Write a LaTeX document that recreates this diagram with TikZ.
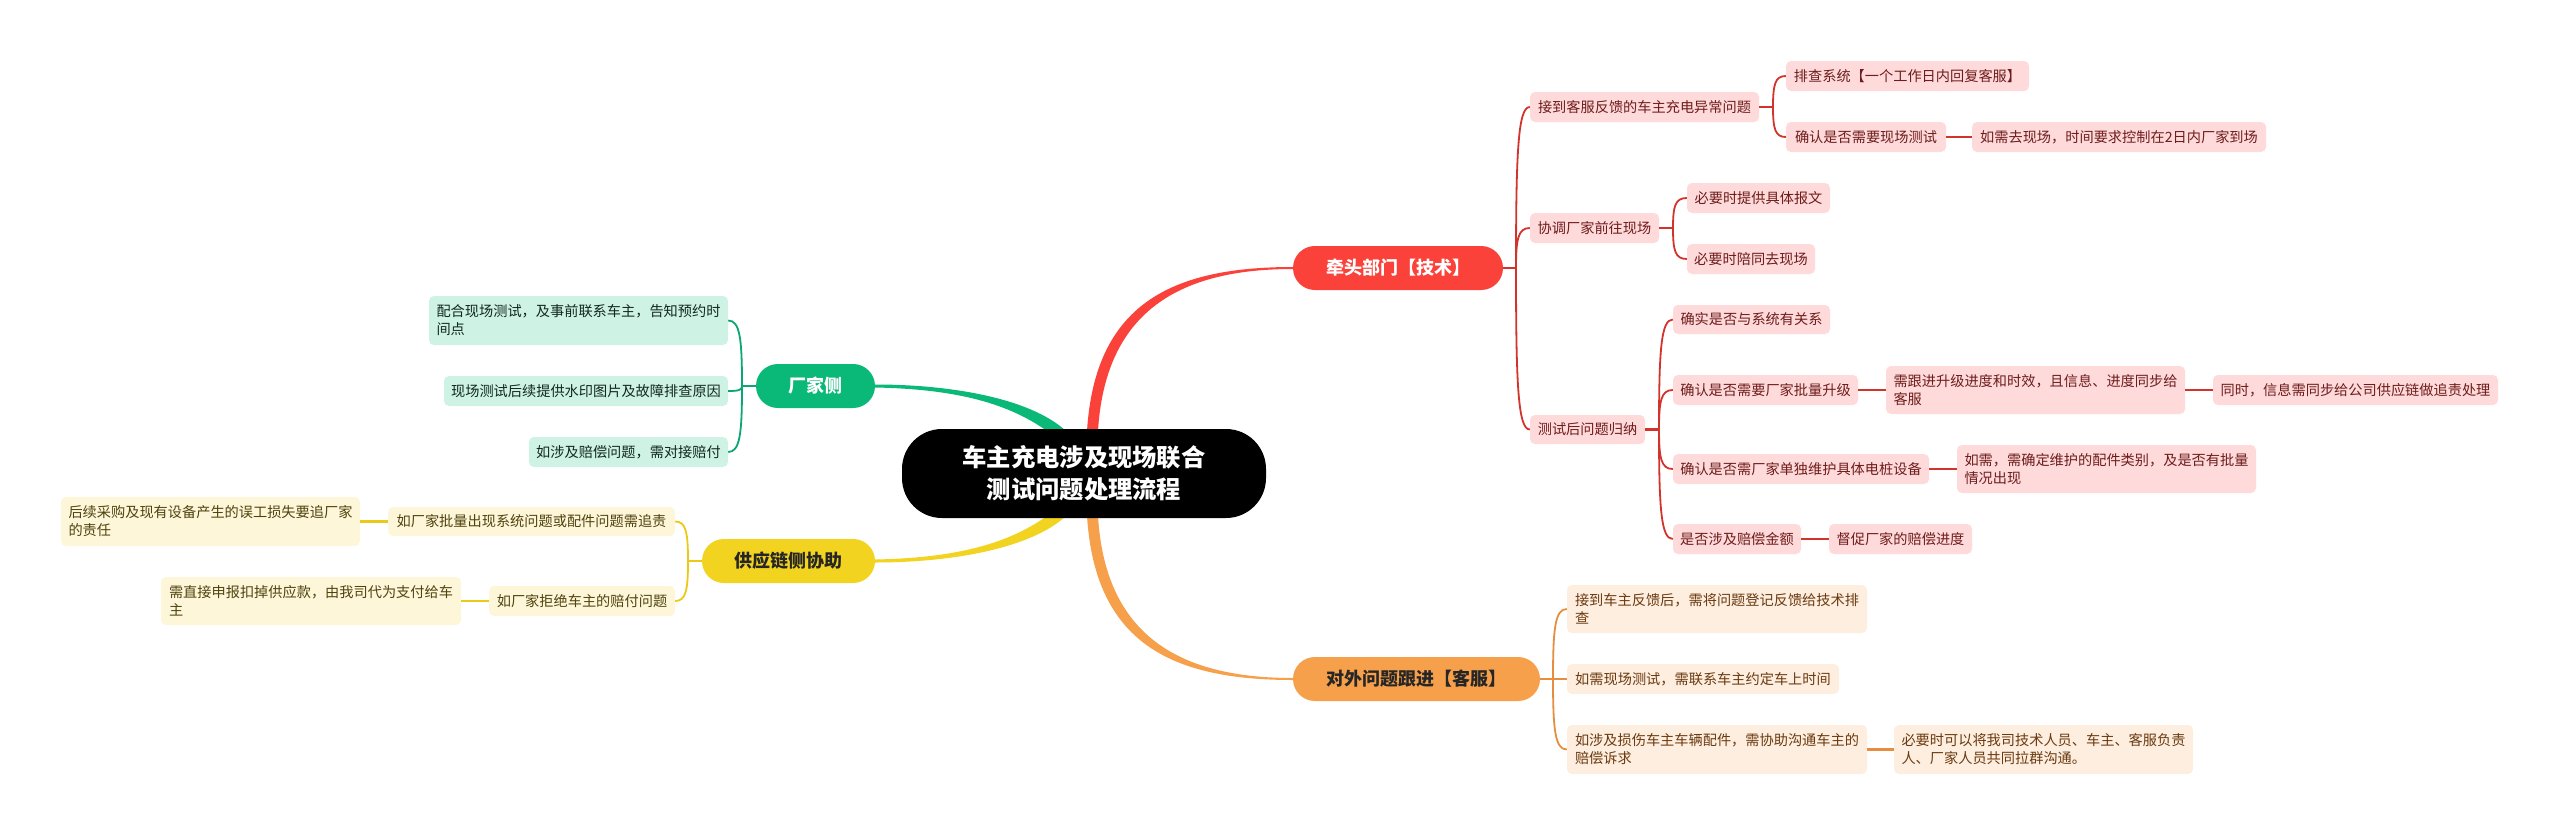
\documentclass[tikz,border=0pt]{standalone}
\usepackage{fontspec}
\setmainfont{Noto Sans CJK SC}
\usetikzlibrary{calc}
\definecolor{rD}{HTML}{FB423A}\definecolor{rL}{HTML}{FFDADA}\definecolor{rT}{HTML}{6E1C1C}\definecolor{rC}{HTML}{D2332B}
\definecolor{oD}{HTML}{F7A04B}\definecolor{oL}{HTML}{FDEEDF}\definecolor{oT}{HTML}{6B3A10}\definecolor{oC}{HTML}{E58E40}
\definecolor{gD}{HTML}{0AB877}\definecolor{gL}{HTML}{CEF3E4}\definecolor{gT}{HTML}{12271F}\definecolor{gC}{HTML}{0AA870}
\definecolor{yD}{HTML}{F2D31F}\definecolor{yL}{HTML}{FDF6D9}\definecolor{yT}{HTML}{4F430D}\definecolor{yC}{HTML}{EBC919}
\tikzset{
 leaf/.style={rounded corners=5pt,inner sep=0pt,align=left,font=\fontsize{14.2}{18}\selectfont},
 rleaf/.style={leaf,fill=rL,text=rT},
 oleaf/.style={leaf,fill=oL,text=oT},
 gleaf/.style={leaf,fill=gL,text=gT},
 yleaf/.style={leaf,fill=yL,text=yT},
 branch/.style={rounded corners=21.9pt,inner sep=0pt,align=center,font=\fontsize{18}{22}\selectfont\bfseries},
 bus/.style={line width=1.8pt},
 stub/.style={line width=2.4pt}
}
% \boxat[style]{name}{x1}{y1}{x2}{y2}{text}
\newcommand\boxat[7][]{\node[#1,minimum width={(#5-#3)*1pt},minimum height={(#6-#4)*1pt}] (#2) at ({(#3+#5)/2},{(#4+#6)/2}) {#7};}
% \fork{colour}{parent anchor}{fork point}{child anchor}{bend}
\newcommand\fork[5]{\draw[bus,#1] (#3) .. controls ($(#3)!.72!(#3 |- #4)$) and ($(#3 |- #4)+(#5,0)$) .. (#4);}
\newcommand\stem[3]{\draw[stub,#1] (#2) -- (#3);}
\begin{document}
\begin{tikzpicture}[x=1pt,y=-1pt]
\useasboundingbox (0,0) rectangle (2560,835);
% ---- branches and centre
\boxat[branch,fill=rD,text=white]{nR}{1293}{246}{1503}{290}{牵头部门【技术】}
\boxat[branch,fill=oD,text=black!85]{nO}{1293}{657}{1540}{701}{对外问题跟进【客服】}
\boxat[branch,fill=gD,text=white]{nG}{756}{364}{875}{408}{厂家侧}
\boxat[branch,fill=yD,text=black!85]{nY}{702}{539}{875}{583}{供应链侧协助}
% tapered main connectors
\fill[rD] (1087,431) .. controls (1095,305) and (1170,267) .. ($(nR.west)+(0,-1)$) -- ($(nR.west)+(0,1)$) .. controls (1175,269) and (1105,315) .. (1098,431) -- cycle;
\fill[oD] (1087,516) .. controls (1095,642) and (1170,680) .. ($(nO.west)+(0,1)$) -- ($(nO.west)+(0,-1)$) .. controls (1175,678) and (1105,632) .. (1098,516) -- cycle;
\fill[gD] (1066,431) .. controls (1030,398) and (950,384.5) .. ($(nG.east)+(0,-1.5)$) -- ($(nG.east)+(0,1.5)$) .. controls (950,389) and (1005,401) .. (1047,431) -- cycle;
\fill[yD] (1066,516) .. controls (1030,549) and (950,562.5) .. ($(nY.east)+(0,1.5)$) -- ($(nY.east)+(0,-1.5)$) .. controls (950,558) and (1005,546) .. (1047,516) -- cycle;
\node[fill=black,text=white,rounded corners=40pt,inner sep=0pt,align=center,minimum width=364pt,minimum height=89pt,font=\fontsize{24.3}{32}\selectfont\bfseries] (ctr) at (1084,473.5) {车主充电涉及现场联合\\测试问题处理流程};
% ---- red leaves
\boxat[rleaf]{a1}{1530}{92}{1759}{122}{接到客服反馈的车主充电异常问题}
\boxat[rleaf]{a11}{1786}{61}{2029}{91}{排查系统【一个工作日内回复客服】}
\boxat[rleaf]{a12}{1786}{122}{1946}{152}{确认是否需要现场测试}
\boxat[rleaf]{a121}{1972}{122}{2266}{152}{如需去现场，时间要求控制在2日内厂家到场}
\boxat[rleaf]{a2}{1530}{213}{1659}{243}{协调厂家前往现场}
\boxat[rleaf]{a21}{1687}{183}{1830}{213}{必要时提供具体报文}
\boxat[rleaf]{a22}{1687}{244}{1815}{274}{必要时陪同去现场}
\boxat[rleaf]{a3}{1530}{415}{1645}{444}{测试后问题归纳}
\boxat[rleaf]{a31}{1673}{305}{1830}{334}{确实是否与系统有关系}
\boxat[rleaf]{a32}{1673}{375}{1858}{405}{确认是否需要厂家批量升级}
\boxat[rleaf]{a321}{1886}{366}{2185}{414}{需跟进升级进度和时效，且信息、进度同步给\\客服}
\boxat[rleaf]{a322}{2213}{375}{2498}{405}{同时，信息需同步给公司供应链做追责处理}
\boxat[rleaf]{a33}{1673}{454}{1929}{484}{确认是否需厂家单独维护具体电桩设备}
\boxat[rleaf]{a331}{1957}{445}{2256}{493}{如需，需确定维护的配件类别，及是否有批量\\情况出现}
\boxat[rleaf]{a34}{1673}{524}{1801}{554}{是否涉及赔偿金额}
\boxat[rleaf]{a341}{1829}{524}{1972}{554}{督促厂家的赔偿进度}
% ---- orange leaves
\boxat[oleaf]{b1}{1567}{585}{1867}{633}{接到车主反馈后，需将问题登记反馈给技术排\\查}
\boxat[oleaf]{b2}{1567}{664}{1839}{694}{如需现场测试，需联系车主约定车上时间}
\boxat[oleaf]{b3}{1567}{725}{1867}{774}{如涉及损伤车主车辆配件，需协助沟通车主的\\赔偿诉求}
\boxat[oleaf]{b31}{1894}{725}{2193}{774}{必要时可以将我司技术人员、车主、客服负责\\人、厂家人员共同拉群沟通。}
% ---- green leaves
\boxat[gleaf]{c1}{429}{296}{728}{345}{配合现场测试，及事前联系车主，告知预约时\\间点}
\boxat[gleaf]{c2}{444}{376}{728}{406}{现场测试后续提供水印图片及故障排查原因}
\boxat[gleaf]{c3}{529}{437}{728}{467}{如涉及赔偿问题，需对接赔付}
% ---- yellow leaves
\boxat[yleaf]{d1}{388}{507}{675}{536}{如厂家批量出现系统问题或配件问题需追责}
\boxat[yleaf]{d11}{61}{497}{360}{546}{后续采购及现有设备产生的误工损失要追厂家\\的责任}
\boxat[yleaf]{d2}{489}{586}{675}{616}{如厂家拒绝车主的赔付问题}
\boxat[yleaf]{d21}{161}{577}{461}{625}{需直接申报扣掉供应款，由我司代为支付给车\\主}
% ---- fork points
\coordinate (fR) at (1516,268);
\coordinate (fA1) at (1773,107);
\coordinate (fA2) at (1673,228);
\coordinate (fA3) at (1659,429.5);
\coordinate (fO) at (1553,679);
\coordinate (fG) at (742,386);
\coordinate (fY) at (688,561);
% ---- red connectors
\stem{rC}{nR.east}{fR}
\fork{rC}{nR}{fR}{a1.west}{2}
\fork{rC}{nR}{fR}{a2.west}{2}
\fork{rC}{nR}{fR}{a3.west}{2}
\stem{rC}{a1.east}{fA1}
\fork{rC}{a1}{fA1}{a11.west}{2}
\fork{rC}{a1}{fA1}{a12.west}{2}
\stem{rC}{a12.east}{a121.west}
\stem{rC}{a2.east}{fA2}
\fork{rC}{a2}{fA2}{a21.west}{2}
\fork{rC}{a2}{fA2}{a22.west}{2}
\stem{rC}{a3.east}{fA3}
\fork{rC}{a3}{fA3}{a31.west}{2}
\fork{rC}{a3}{fA3}{a32.west}{2}
\fork{rC}{a3}{fA3}{a33.west}{2}
\fork{rC}{a3}{fA3}{a34.west}{2}
\stem{rC}{a32.east}{a321.west}
\stem{rC}{a321.east}{a322.west}
\stem{rC}{a33.east}{a331.west}
\stem{rC}{a34.east}{a341.west}
% ---- orange connectors
\stem{oC}{nO.east}{fO}
\fork{oC}{nO}{fO}{b1.west}{2}
\fork{oC}{nO}{fO}{b2.west}{2}
\fork{oC}{nO}{fO}{b3.west}{2}
\stem{oC}{b3.east}{b31.west}
% ---- green connectors
\stem{gC}{nG.west}{fG}
\fork{gC}{nG}{fG}{c1.east}{-2}
\fork{gC}{nG}{fG}{c2.east}{-2}
\fork{gC}{nG}{fG}{c3.east}{-2}
% ---- yellow connectors
\stem{yC}{nY.west}{fY}
\fork{yC}{nY}{fY}{d1.east}{-2}
\fork{yC}{nY}{fY}{d2.east}{-2}
\stem{yC}{d1.west}{d11.east}
\stem{yC}{d2.west}{d21.east}
\end{tikzpicture}
\end{document}
